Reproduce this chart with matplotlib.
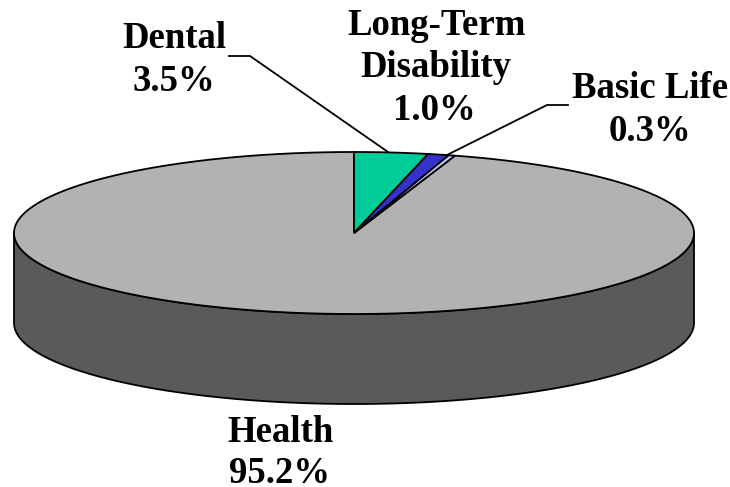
import numpy as np
import matplotlib
matplotlib.use("Agg")
import matplotlib.pyplot as plt
from matplotlib.patches import Polygon

categories = ["Health", "Dental", "Long-Term\nDisability", "Basic Life"]
values = [95.2, 3.5, 1.0, 0.3]
labels = ["95.2%", "3.5%", "1.0%", "0.3%"]
top_colors = ["#B2B2B2", "#00CC99", "#3333CC", "#CCCCFF"]
side_color = "#5A5A5A"

W, H = 730, 487
fig = plt.figure(figsize=(W/100, H/100), dpi=100)
ax = fig.add_axes([0, 0, 1, 1])
ax.set_xlim(0, W); ax.set_ylim(H, 0); ax.axis("off")

cx, cy, rx, ry, depth = 354, 233, 340, 81, 90
plt.rcParams["font.family"] = ["Liberation Serif"]
LW = 1.3

def pt(a):
    t = np.deg2rad(a * 3.6)
    return cx + rx*np.sin(t), cy - ry*np.cos(t)

t = np.linspace(np.pi/2, 3*np.pi/2, 200)
xs = cx + rx*np.sin(t); ys = cy - ry*np.cos(t)
side = np.r_[np.c_[xs, ys], np.c_[xs[::-1], ys[::-1]+depth]]
ax.add_patch(Polygon(side, closed=True, fc=side_color, ec="black", lw=LW, zorder=1))

start = 0.0
order = [1, 2, 3, 0]
for i in order:
    a = np.linspace(start, start+values[i], max(int(values[i]*4), 8))
    px, py = pt(a)
    poly = np.r_[[[cx, cy]], np.c_[px, py]]
    ax.add_patch(Polygon(poly, closed=True, fc=top_colors[i], ec="black", lw=LW,
                         zorder=2 if i == 0 else 3))
    start += values[i]

ax.plot([229, 250, 388], [56, 56, 152], color="black", lw=LW, zorder=4)
ax.plot([568, 547, 447], [105, 105, 155], color="black", lw=LW, zorder=4)

fs = 26.5
tk = dict(ha="center", va="baseline", fontsize=fs, fontweight="bold", color="black")
long_term, disability = categories[2].split("\n")
ax.text(174, 48, categories[1], **tk); ax.text(174, 91, labels[1], **tk)
ax.text(437, 35, long_term, **tk); ax.text(436, 77, disability, **tk); ax.text(434, 120, labels[2], **tk)
ax.text(650, 98, categories[3], **tk); ax.text(650, 141, labels[3], **tk)
ax.text(280, 442, categories[0], **tk); ax.text(280, 483, labels[0], **tk)

fig.savefig("out.png", dpi=100)
